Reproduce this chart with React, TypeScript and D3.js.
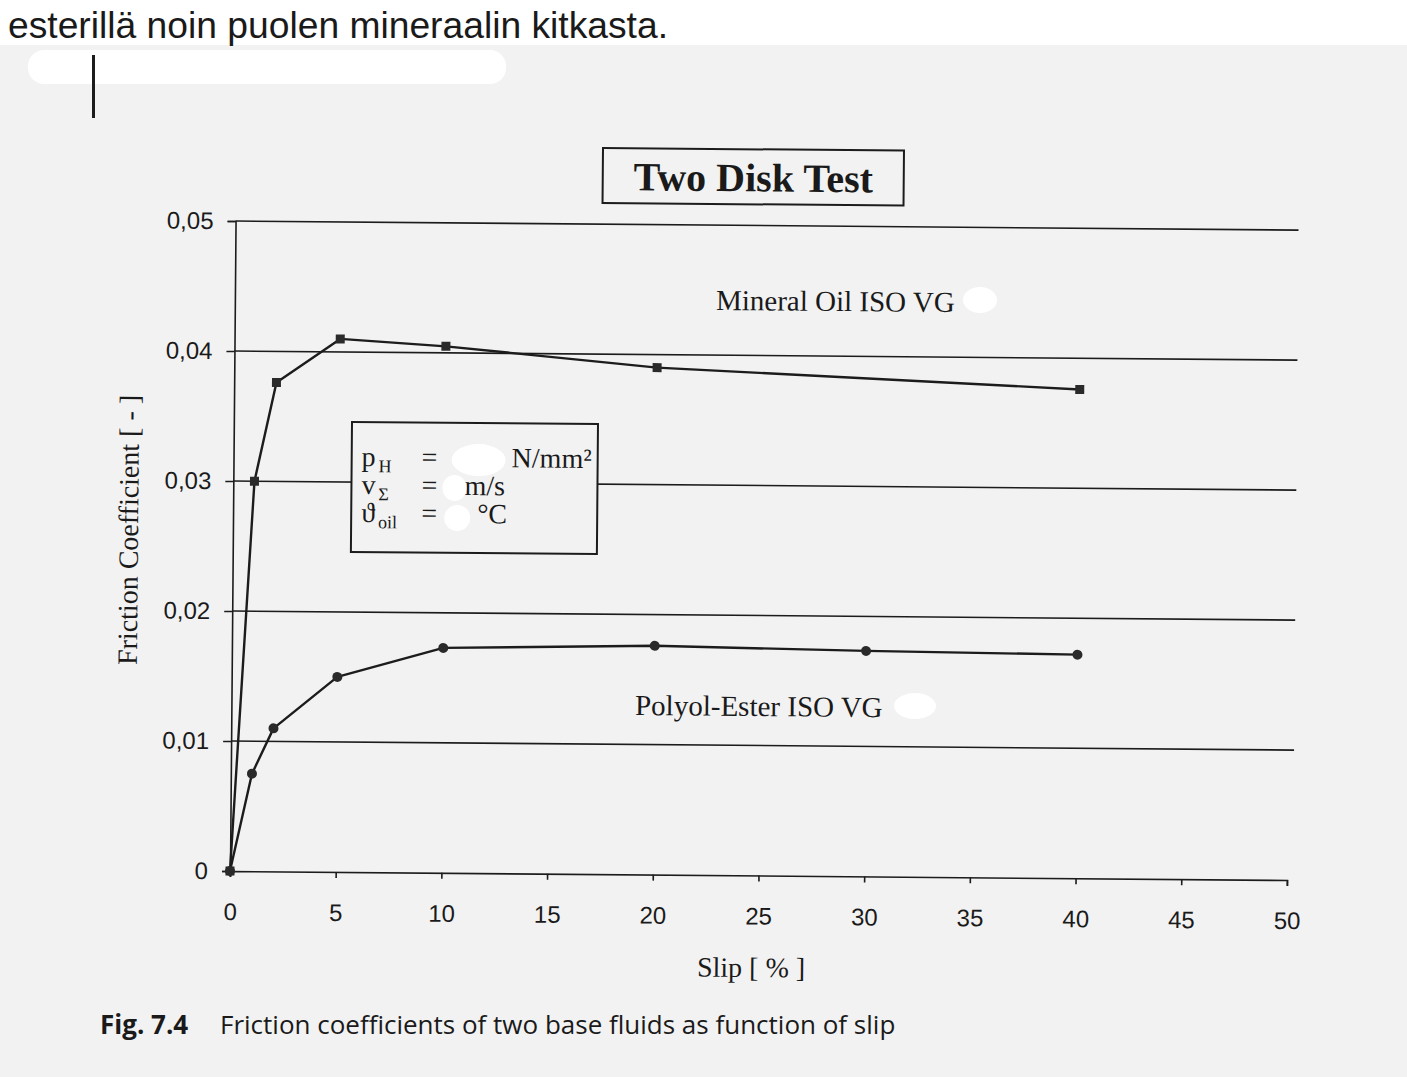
import React, { useEffect, useRef } from 'react';
import * as d3 from 'd3';

// values
const mineralSlip = [0, 1, 2, 5, 10, 20, 40];
const mineralFriction = [0, 0.03, 0.0376, 0.041, 0.0405, 0.039, 0.0376];
const polyolSlip = [0, 1, 2, 5, 10, 20, 30, 40];
const polyolFriction = [0, 0.0075, 0.011, 0.015, 0.0173, 0.0176, 0.01735, 0.0172];

const xTicks = [0, 5, 10, 15, 20, 25, 30, 35, 40, 45, 50];
const yTicks = [0, 0.01, 0.02, 0.03, 0.04, 0.05];
const yTickLabels = ['0', '0,01', '0,02', '0,03', '0,04', '0,05'];

const W = 1407;
const H = 1077;
const ORIGIN = { x: 230, y: 871 };
const ROT = 0.49; // the scan is tilted a little clockwise
const BG = '#f2f2f2';
const INK = '#1c1c1c';
const serif = '"Liberation Serif", "Times New Roman", serif';
const sans = '"Liberation Sans", Arial, sans-serif';
const captionFont = '"Open Sans", "Noto Sans", sans-serif';

// undo the tilt so that a label ends up where it sits in the picture
function untilt(px: number, py: number): [number, number] {
  const a = (ROT * Math.PI) / 180;
  const dx = px - ORIGIN.x;
  const dy = py - ORIGIN.y;
  return [
    ORIGIN.x + dx * Math.cos(a) + dy * Math.sin(a),
    ORIGIN.y - dx * Math.sin(a) + dy * Math.cos(a),
  ];
}

export default function App() {
  const svgRef = useRef<SVGSVGElement>(null);

  useEffect(() => {
    if (!svgRef.current) return;
    const svg = d3.select(svgRef.current);
    svg.selectAll('*').remove();

    svg.append('rect').attr('width', W).attr('height', H).attr('fill', BG);
    svg.append('rect').attr('width', W).attr('height', 45).attr('fill', '#fff');

    svg.append('text')
      .attr('x', 8)
      .attr('y', 38)
      .attr('font-family', sans)
      .attr('font-size', 36)
      .attr('textLength', 660)
      .attr('lengthAdjust', 'spacingAndGlyphs')
      .attr('fill', '#1a1a1a')
      .text('esterillä noin puolen mineraalin kitkasta.');

    // white-out strip and margin bar
    svg.append('rect').attr('x', 28).attr('y', 50).attr('width', 478).attr('height', 34).attr('rx', 16).attr('fill', '#fff');
    svg.append('rect').attr('x', 92).attr('y', 55).attr('width', 3).attr('height', 63).attr('fill', INK);

    const g = svg.append('g').attr('transform', `rotate(${ROT},${ORIGIN.x},${ORIGIN.y})`);

    const x = d3.scaleLinear().domain([0, 50]).range([230, 1287]);
    const y = d3.scaleLinear().domain([0, 0.05]).range([871, 221]);

    // horizontal gridlines
    g.append('g')
      .selectAll('line')
      .data(yTicks.slice(1))
      .join('line')
      .attr('x1', x(0))
      .attr('x2', x(50) + 6)
      .attr('y1', (d) => y(d))
      .attr('y2', (d) => y(d))
      .attr('stroke', INK)
      .attr('stroke-width', 1.6);

    const yAxis = d3.axisLeft(y)
      .tickValues(yTicks)
      .tickSize(8)
      .tickPadding(14)
      .tickFormat((d) => yTickLabels[yTicks.indexOf(d as number)]);
    const yg = g.append('g').attr('transform', `translate(${x(0)},0)`).call(yAxis);

    const xAxis = d3.axisBottom(x)
      .tickValues(xTicks)
      .tickSizeInner(6)
      .tickSizeOuter(6)
      .tickPadding(26)
      .tickFormat((d) => String(d));
    const xg = g.append('g').attr('transform', `translate(0,${y(0)})`).call(xAxis);

    [yg, xg].forEach((ax) => {
      ax.attr('font-family', sans).attr('font-size', 24);
      ax.selectAll('path, line').attr('stroke', INK).attr('stroke-width', 1.6);
      ax.selectAll('text').attr('fill', '#1a1a1a');
    });

    // params box (drawn over the 0,03 gridline)
    const [bx, by] = untilt(352, 422);
    const box = g.append('g').attr('transform', `translate(${bx},${by})`);
    box.append('rect')
      .attr('width', 246)
      .attr('height', 130)
      .attr('fill', BG)
      .attr('stroke', INK)
      .attr('stroke-width', 2);

    const rows = [
      { sym: 'p', sub: 'H', unit: 'N/mm²', unitX: 160, y: 44 },
      { sym: 'v', sub: 'Σ', unit: 'm/s', unitX: 113, y: 72 },
      { sym: 'ϑ', sub: 'oil', unit: '°C', unitX: 126, y: 100 },
    ];
    rows.forEach((r) => {
      const t = box.append('text')
        .attr('y', r.y)
        .attr('font-family', serif)
        .attr('font-size', 28)
        .attr('fill', '#1a1a1a');
      t.append('tspan').attr('x', 10).text(r.sym);
      t.append('tspan').attr('x', 27).attr('dy', 6).attr('font-size', 18).text(r.sub);
      t.append('tspan').attr('x', 70).attr('dy', -6).text('=');
      t.append('tspan').attr('x', r.unitX).text(r.unit);
    });
    const boxBlobs = [
      [127, 37, 27, 16],
      [103, 65, 12, 13],
      [106, 95, 13, 13],
    ];
    box.selectAll('ellipse')
      .data(boxBlobs)
      .join('ellipse')
      .attr('cx', (d) => d[0])
      .attr('cy', (d) => d[1])
      .attr('rx', (d) => d[2])
      .attr('ry', (d) => d[3])
      .attr('fill', '#fff');

    // series
    const line = d3.line<[number, number]>()
      .x((d) => x(d[0]))
      .y((d) => y(d[1]));

    const mineralPts = mineralSlip.map((s, i) => [s, mineralFriction[i]] as [number, number]);
    const polyolPts = polyolSlip.map((s, i) => [s, polyolFriction[i]] as [number, number]);

    [mineralPts, polyolPts].forEach((pts) => {
      g.append('path')
        .datum(pts)
        .attr('d', line)
        .attr('fill', 'none')
        .attr('stroke', INK)
        .attr('stroke-width', 2.4)
        .attr('stroke-linejoin', 'round');
    });

    g.append('g')
      .selectAll('rect')
      .data(mineralPts)
      .join('rect')
      .attr('x', (d) => x(d[0]) - 4.5)
      .attr('y', (d) => y(d[1]) - 4.5)
      .attr('width', 9)
      .attr('height', 9)
      .attr('fill', '#2a2a2a');

    g.append('g')
      .selectAll('circle')
      .data(polyolPts)
      .join('circle')
      .attr('cx', (d) => x(d[0]))
      .attr('cy', (d) => y(d[1]))
      .attr('r', 5)
      .attr('fill', '#2a2a2a');

    // title box
    const [tx, ty] = untilt(603, 148);
    const title = g.append('g').attr('transform', `translate(${tx},${ty})`);
    title.append('rect')
      .attr('width', 301)
      .attr('height', 55)
      .attr('fill', BG)
      .attr('stroke', INK)
      .attr('stroke-width', 2);
    title.append('text')
      .attr('x', 150.5)
      .attr('y', 42)
      .attr('text-anchor', 'middle')
      .attr('font-family', serif)
      .attr('font-weight', 'bold')
      .attr('font-size', 40)
      .attr('fill', '#1a1a1a')
      .text('Two Disk Test');

    // series labels with their white-outs
    const labels = [
      { text: 'Mineral Oil ISO VG', at: untilt(716, 310), blob: untilt(980, 300), rx: 17 },
      { text: 'Polyol-Ester ISO VG', at: untilt(635, 715), blob: untilt(915, 706), rx: 21 },
    ];
    labels.forEach((l) => {
      g.append('text')
        .attr('x', l.at[0])
        .attr('y', l.at[1])
        .attr('font-family', serif)
        .attr('font-size', 29)
        .attr('fill', '#1a1a1a')
        .text(l.text);
      g.append('ellipse')
        .attr('cx', l.blob[0])
        .attr('cy', l.blob[1])
        .attr('rx', l.rx)
        .attr('ry', 13)
        .attr('fill', '#fff');
    });

    // axis titles
    const [ylx, yly] = untilt(138, 530);
    g.append('text')
      .attr('transform', `translate(${ylx},${yly}) rotate(-90)`)
      .attr('text-anchor', 'middle')
      .attr('font-family', serif)
      .attr('font-size', 28)
      .attr('fill', '#1a1a1a')
      .text('Friction Coefficient [ - ]');

    const [xlx, xly] = untilt(751, 977);
    g.append('text')
      .attr('x', xlx)
      .attr('y', xly)
      .attr('text-anchor', 'middle')
      .attr('font-family', serif)
      .attr('font-size', 28)
      .attr('fill', '#1a1a1a')
      .text('Slip [ % ]');

    // caption
    const cap = svg.append('text')
      .attr('y', 1034)
      .attr('font-family', captionFont)
      .attr('font-size', 26)
      .attr('fill', '#1a1a1a');
    cap.append('tspan').attr('x', 100).attr('font-weight', 'bold').text('Fig. 7.4');
    cap.append('tspan').attr('x', 220).text('Friction coefficients of two base fluids as function of slip');
  }, []);

  return (
    <svg
      ref={svgRef}
      width={W}
      height={H}
      style={{ position: 'absolute', left: 0, top: 0, display: 'block' }}
    />
  );
}
